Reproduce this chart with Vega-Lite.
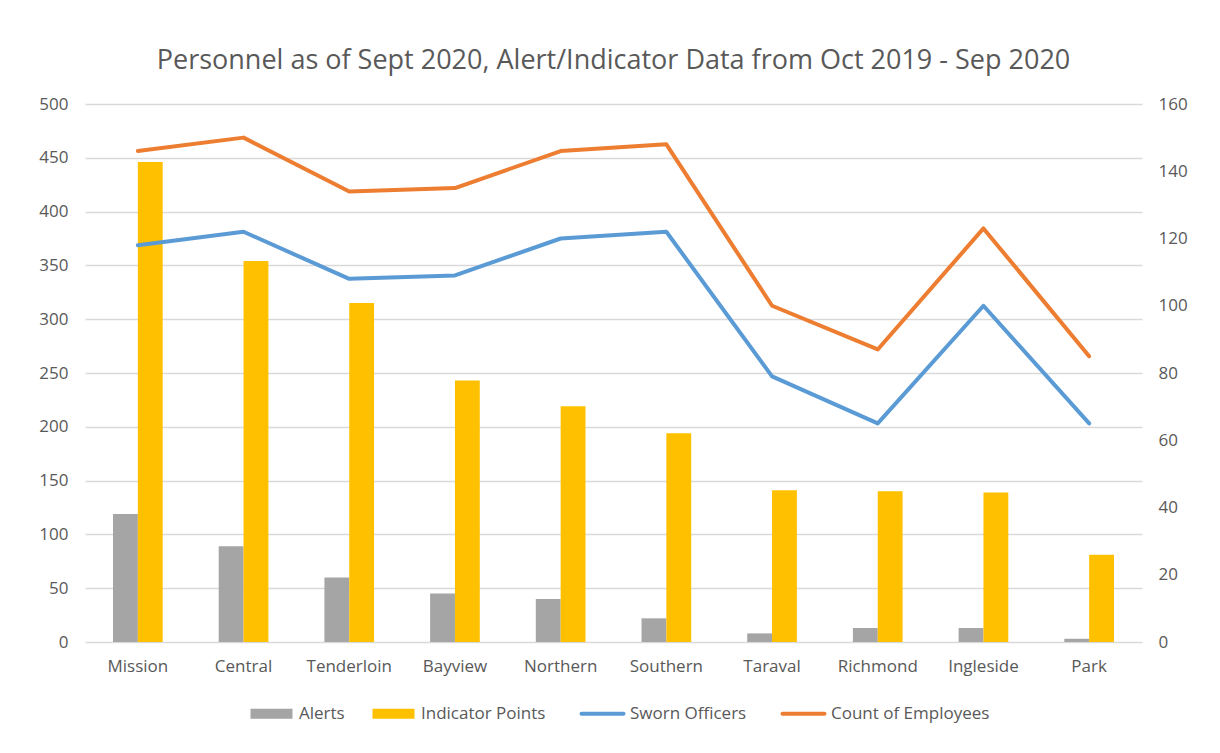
{
  "$schema": "https://vega.github.io/schema/vega-lite/v6.json",
  "width": 1057,
  "height": 538,
  "autosize": "none",
  "padding": {"left": 85, "top": 104, "right": 78, "bottom": 111},
  "background": "white",
  "config": {
    "view": {"stroke": null},
    "font": "Open Sans",
    "axis": {"labelFont": "Open Sans", "labelFontSize": 17, "labelColor": "#595959", "ticks": false, "domain": false, "title": null}
  },
  "title": {
    "text": "Personnel as of Sept 2020, Alert/Indicator Data from Oct 2019 - Sep 2020",
    "font": "Open Sans",
    "fontSize": 27,
    "fontWeight": "normal",
    "color": "#595959",
    "anchor": "middle",
    "offset": 20
  },
  "data": {
    "values": [
      {"district": "Mission", "Alerts": 119, "Indicator Points": 446, "Sworn Officers": 118, "Count of Employees": 146},
      {"district": "Central", "Alerts": 89, "Indicator Points": 354, "Sworn Officers": 122, "Count of Employees": 150},
      {"district": "Tenderloin", "Alerts": 60, "Indicator Points": 315, "Sworn Officers": 108, "Count of Employees": 134},
      {"district": "Bayview", "Alerts": 45, "Indicator Points": 243, "Sworn Officers": 109, "Count of Employees": 135},
      {"district": "Northern", "Alerts": 40, "Indicator Points": 219, "Sworn Officers": 120, "Count of Employees": 146},
      {"district": "Southern", "Alerts": 22, "Indicator Points": 194, "Sworn Officers": 122, "Count of Employees": 148},
      {"district": "Taraval", "Alerts": 8, "Indicator Points": 141, "Sworn Officers": 79, "Count of Employees": 100},
      {"district": "Richmond", "Alerts": 13, "Indicator Points": 140, "Sworn Officers": 65, "Count of Employees": 87},
      {"district": "Ingleside", "Alerts": 13, "Indicator Points": 139, "Sworn Officers": 100, "Count of Employees": 123},
      {"district": "Park", "Alerts": 3, "Indicator Points": 81, "Sworn Officers": 65, "Count of Employees": 85}
    ]
  },
  "layer": [
    {
      "transform": [{"fold": ["Alerts", "Indicator Points"], "as": ["series", "value"]}],
      "mark": {"type": "bar"},
      "encoding": {
        "x": {
          "field": "district", "type": "nominal", "sort": null,
          "scale": {"paddingInner": 0.53, "paddingOuter": 0.265},
          "axis": {"labelAngle": 0, "labelPadding": 16, "grid": false}
        },
        "xOffset": {"field": "series", "type": "nominal", "sort": ["Alerts", "Indicator Points"], "scale": {"paddingInner": 0, "paddingOuter": 0}},
        "y": {
          "field": "value", "type": "quantitative",
          "scale": {"domain": [0, 500], "nice": false},
          "axis": {"values": [0, 50, 100, 150, 200, 250, 300, 350, 400, 450, 500], "grid": true, "gridColor": "#D9D9D9", "gridWidth": 1.3, "labelPadding": 17}
        },
        "color": {
          "field": "series", "type": "nominal",
          "scale": {"domain": ["Alerts", "Indicator Points", "Sworn Officers", "Count of Employees"], "range": ["#A5A5A5", "#FFC000", "#5B9BD5", "#ED7D31"]},
          "legend": {
            "title": null,
            "orient": "none",
            "direction": "horizontal",
            "legendX": 178,
            "legendY": 601,
            "columns": 4,
            "columnPadding": 27,
            "labelFont": "Open Sans",
            "labelFontSize": 17,
            "labelColor": "#595959",
            "labelOffset": 19,
            "symbolSize": 1764,
            "symbolType": "M-1,-0.24H1V0.24H-1Z",
            "encode": {
              "symbols": {
                "update": {
                  "shape": {"signal": "datum.value === 'Alerts' || datum.value === 'Indicator Points' ? 'M-1,-0.24H1V0.24H-1Z' : 'M-1,0H1'"},
                  "fill": {"scale": "color", "field": "value"},
                  "stroke": {"scale": "color", "field": "value"},
                  "strokeWidth": {"signal": "datum.value === 'Alerts' || datum.value === 'Indicator Points' ? 0 : 4"},
                  "strokeCap": {"value": "round"},
                  "opacity": {"value": 1}
                }
              }
            }
          }
        }
      }
    },
    {
      "transform": [{"fold": ["Sworn Officers", "Count of Employees"], "as": ["series", "value"]}],
      "mark": {"type": "line", "strokeWidth": 4, "strokeCap": "round", "strokeJoin": "round"},
      "encoding": {
        "x": {"field": "district", "type": "nominal", "sort": null},
        "y": {
          "field": "value", "type": "quantitative",
          "scale": {"domain": [0, 160], "nice": false},
          "axis": {"orient": "right", "values": [0, 20, 40, 60, 80, 100, 120, 140, 160], "grid": false, "labelPadding": 16}
        },
        "color": {"field": "series", "type": "nominal"}
      }
    }
  ],
  "resolve": {"scale": {"y": "independent"}}
}
